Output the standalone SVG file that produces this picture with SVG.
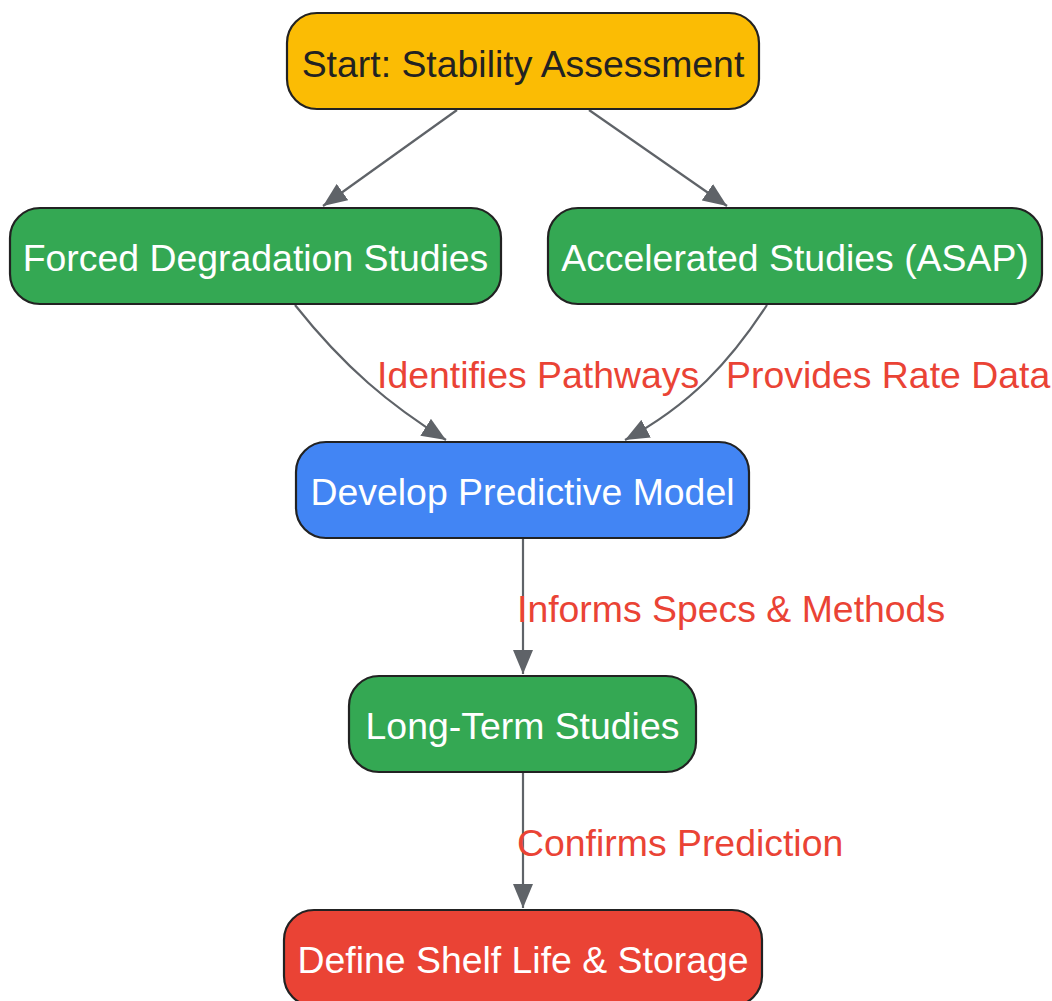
<svg xmlns="http://www.w3.org/2000/svg" width="1052" height="1001" viewBox="0 0 1052 1001">
<style>
.node rect{stroke:#222;stroke-width:2.2}
.node text{font-family:"Liberation Sans",Arial,sans-serif;font-size:37.4px;text-anchor:middle;fill:#fff}
.edge{fill:none;stroke:#5f6368;stroke-width:2.2}
.lbl{font-family:"Liberation Sans",Arial,sans-serif;font-size:37.4px;fill:#EA4335}
</style>
<defs>
<marker id="arr" viewBox="0 0 24 20" refX="24" refY="10" markerWidth="24" markerHeight="20" markerUnits="userSpaceOnUse" orient="auto">
<path d="M0,0 L24,10 L0,20 Z" fill="#5f6368"/>
</marker>
</defs>
<rect width="1052" height="1001" fill="#fff"/>
<g id="connectors">
<path class="edge" d="M457,110 L323,206" marker-end="url(#arr)"/>
<path class="edge" d="M589,110 L727,206" marker-end="url(#arr)"/>
<path class="edge" d="M295,305 C345,368 390,405 446,440" marker-end="url(#arr)"/>
<path class="edge" d="M767,305 C730,362 690,405 625,440" marker-end="url(#arr)"/>
<path class="edge" d="M523,539 L523,674" marker-end="url(#arr)"/>
<path class="edge" d="M523,773 L523,908" marker-end="url(#arr)"/>
<text class="lbl" x="377" y="388">Identifies Pathways</text>
<text class="lbl" x="726" y="388">Provides Rate Data</text>
<text class="lbl" x="517" y="622">Informs Specs &amp; Methods</text>
<text class="lbl" x="517" y="856">Confirms Prediction</text>
</g>
<g id="start" class="node">
<rect x="287" y="13" width="472" height="96" rx="30" fill="#FBBC04"/>
<text x="523" y="77" style="fill:#222">Start: Stability Assessment</text>
</g>
<g id="forced" class="node">
<rect x="10" y="208" width="491" height="96" rx="30" fill="#34A853"/>
<text x="255.5" y="271">Forced Degradation Studies</text>
</g>
<g id="accelerated" class="node">
<rect x="548" y="208" width="494" height="96" rx="30" fill="#34A853"/>
<text x="795" y="271">Accelerated Studies (ASAP)</text>
</g>
<g id="develop" class="node">
<rect x="296" y="442" width="453" height="96" rx="30" fill="#4285F4"/>
<text x="522.5" y="505">Develop Predictive Model</text>
</g>
<g id="longterm" class="node">
<rect x="349" y="676" width="347" height="96" rx="30" fill="#34A853"/>
<text x="522.5" y="739">Long-Term Studies</text>
</g>
<g id="define" class="node">
<rect x="284" y="910" width="478" height="96" rx="30" fill="#EA4335"/>
<text x="523" y="973">Define Shelf Life &amp; Storage</text>
</g>
</svg>
